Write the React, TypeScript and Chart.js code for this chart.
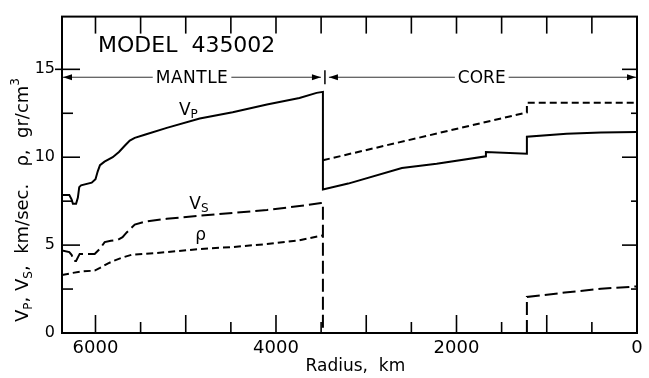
import React, { useEffect, useRef } from "react";
import { Chart, registerables } from "chart.js";

Chart.register(...registerables);

const FONT = '"DejaVu Sans", sans-serif';

// Radius (km) and values; null marks a break in the curve
const vpRadius = [6371, 6290, 6265, 6250, 6215, 6195, 6180, 6160, 6042, 6000, 5975, 5950, 5900, 5809, 5740, 5676, 5620, 5565, 5455, 5210, 4845, 4480, 4100, 3740, 3550, 3480, 3480, 3200, 2605, 2220, 1674, 1674, 1220, 1220, 780, 400, 0];
const vpValues = [7.85, 7.85, 7.6, 7.35, 7.35, 7.7, 8.3, 8.4, 8.55, 8.75, 9.2, 9.55, 9.75, 10.0, 10.3, 10.65, 10.95, 11.1, 11.28, 11.67, 12.2, 12.56, 13.0, 13.37, 13.66, 13.72, 8.17, 8.5, 9.39, 9.63, 10.05, 10.3, 10.2, 11.17, 11.33, 11.4, 11.43];

const vsRadius = [6371, 6290, 6265, 6240, 6215, 6195, 6175, 6009, 5950, 5898, 5830, 5754, 5700, 5654, 5565, 5455, 5211, 4845, 4480, 4100, 3740, 3500, 3480, 3480, 2000, 1220, 1220, 800, 400, 0];
const vsValues = [4.7, 4.6, 4.45, 4.1, 4.1, 4.3, 4.5, 4.5, 4.8, 5.17, 5.25, 5.3, 5.45, 5.72, 6.17, 6.33, 6.5, 6.67, 6.83, 7.0, 7.22, 7.39, 7.4, 0, null, 0, 2.05, 2.3, 2.52, 2.65];

const rhoRadius = [6371, 6250, 6150, 6009, 5950, 5865, 5800, 5710, 5600, 5455, 5211, 4845, 4480, 4100, 3740, 3480, 3480, 3480, 1220, 1220, 0];
const rhoValues = [3.3, 3.42, 3.5, 3.55, 3.7, 3.95, 4.1, 4.28, 4.45, 4.5, 4.6, 4.78, 4.89, 5.06, 5.28, 5.55, null, 9.83, 12.55, 13.1, 13.1];

const xTickLabels = [0, 2000, 4000, 6000];
const yTickLabels = [0, 5, 10, 15];
const modelTitle = "MODEL  435002";
const mantleLabel = "MANTLE";
const coreLabel = "CORE";
const xTitle = "Radius,  km";

const R_EARTH = 6371;
const R_CMB = 3480;

function pts(rs: number[], vs: (number | null)[]) {
  return rs.map((r, i) => ({ x: r, y: vs[i] }));
}

function drawParts(ctx: CanvasRenderingContext2D, parts: { t: string; s: number; dy?: number }[], x: number, y: number, center = false) {
  let total = 0;
  for (const p of parts) {
    ctx.font = `${p.s}px ${FONT}`;
    total += ctx.measureText(p.t).width;
  }
  let cx = center ? x - total / 2 : x;
  for (const p of parts) {
    ctx.font = `${p.s}px ${FONT}`;
    ctx.fillText(p.t, cx, y + (p.dy || 0));
    cx += ctx.measureText(p.t).width;
  }
}

const decor = {
  id: "decor",
  afterDraw(chart: any) {
    const ctx: CanvasRenderingContext2D = chart.ctx;
    const xs = chart.scales.x;
    const ys = chart.scales.y;
    const { left, right, top, bottom } = chart.chartArea;
    ctx.save();
    ctx.strokeStyle = "#000";
    ctx.fillStyle = "#000";
    // frame
    ctx.lineWidth = 2;
    ctx.strokeRect(left, top, right - left, bottom - top);
    // x ticks
    ctx.lineWidth = 1.6;
    for (let r = 0; r <= 6000; r += 500) {
      const px = xs.getPixelForValue(r);
      const major = r % 1000 === 0;
      ctx.beginPath();
      ctx.moveTo(px, bottom);
      ctx.lineTo(px, bottom - (major ? 18 : 11));
      ctx.stroke();
      ctx.beginPath();
      ctx.moveTo(px, top);
      ctx.lineTo(px, top + 17);
      ctx.stroke();
    }
    // y ticks
    for (let v = 2.5; v <= 15; v += 2.5) {
      const py = ys.getPixelForValue(v);
      const major = v % 5 === 0;
      ctx.beginPath();
      ctx.moveTo(v === 15 ? left - 7 : left, py);
      ctx.lineTo(left + (major ? 18 : 11), py);
      ctx.stroke();
      ctx.beginPath();
      ctx.moveTo(right, py);
      ctx.lineTo(right - (major ? 15 : 6), py);
      ctx.stroke();
    }
    // mantle / core arrows
    const ay = ys.getPixelForValue(14.55);
    const xE = xs.getPixelForValue(R_EARTH) + 1;
    const xC = xs.getPixelForValue(R_CMB) + 2;
    const x0 = xs.getPixelForValue(0) - 1;
    ctx.font = `17px ${FONT}`;
    ctx.textBaseline = "middle";
    ctx.textAlign = "center";
    const seg = (a: number, b: number, label: string, lx: number, ls: number) => {
      (ctx as any).letterSpacing = `${ls}px`;
      const w = ctx.measureText(label).width + 6;
      ctx.lineWidth = 1;
      ctx.strokeStyle = "#333";
      ctx.beginPath();
      ctx.moveTo(a, ay);
      ctx.lineTo(lx - w / 2, ay);
      ctx.moveTo(lx + w / 2, ay);
      ctx.lineTo(b, ay);
      ctx.stroke();
      ctx.fillStyle = "#000";
      ctx.beginPath();
      ctx.moveTo(a, ay);
      ctx.lineTo(a + 9, ay - 3);
      ctx.lineTo(a + 9, ay + 3);
      ctx.closePath();
      ctx.fill();
      ctx.beginPath();
      ctx.moveTo(b, ay);
      ctx.lineTo(b - 9, ay - 3);
      ctx.lineTo(b - 9, ay + 3);
      ctx.closePath();
      ctx.fill();
      ctx.fillText(label, lx, ay + 1);
      (ctx as any).letterSpacing = "0px";
    };
    seg(xE, xC - 4, mantleLabel, xs.getPixelForValue(4930), 0.5);
    seg(xC + 4, x0, coreLabel, xs.getPixelForValue(1720), 0);
    ctx.lineWidth = 1.5;
    ctx.strokeStyle = "#000";
    ctx.beginPath();
    ctx.moveTo(xC, ay - 7);
    ctx.lineTo(xC, ay + 7);
    ctx.stroke();

    // model title
    ctx.textAlign = "left";
    ctx.textBaseline = "alphabetic";
    ctx.font = `22px ${FONT}`;
    ctx.fillText(modelTitle, 98, 52);

    // curve labels
    drawParts(ctx, [{ t: "V", s: 17 }, { t: "P", s: 12, dy: 3 }], xs.getPixelForValue(5075), ys.getPixelForValue(12.4));
    drawParts(ctx, [{ t: "V", s: 17 }, { t: "S", s: 12, dy: 3 }], xs.getPixelForValue(4960), ys.getPixelForValue(7.05));
    drawParts(ctx, [{ t: "ρ", s: 17 }], xs.getPixelForValue(4895), ys.getPixelForValue(5.3));

    // y title
    ctx.save();
    ctx.translate(28, 200);
    ctx.rotate(-Math.PI / 2);
    drawParts(
      ctx,
      [
        { t: "V", s: 18 },
        { t: "P", s: 12, dy: 4 },
        { t: ", ", s: 18 },
        { t: "V", s: 18 },
        { t: "S", s: 12, dy: 4 },
        { t: ",  km/sec.   ", s: 18 },
        { t: "ρ", s: 18 },
        { t: ",  gr/cm", s: 18 },
        { t: "3", s: 12, dy: -9 },
      ],
      0,
      0,
      true
    );
    ctx.restore();

    // x title
    ctx.textAlign = "center";
    ctx.font = `17px ${FONT}`;
    ctx.fillText(xTitle, xs.getPixelForValue(3120), 371);
    ctx.restore();
  },
};

export default function App() {
  const ref = useRef<HTMLCanvasElement | null>(null);
  useEffect(() => {
    if (!ref.current) return;
    const chart = new Chart(ref.current, {
      type: "line",
      data: {
        datasets: [
          {
            label: "Vp",
            data: pts(vpRadius, vpValues) as any,
            borderColor: "#000",
            borderWidth: 2,
            pointRadius: 0,
            tension: 0,
            spanGaps: false,
          },
          {
            label: "Vs",
            data: pts(vsRadius, vsValues) as any,
            borderColor: "#000",
            borderWidth: 2,
            borderDash: [13, 5],
            pointRadius: 0,
            tension: 0,
            spanGaps: false,
          },
          {
            label: "rho",
            data: pts(rhoRadius, rhoValues) as any,
            borderColor: "#000",
            borderWidth: 2,
            borderDash: [7, 4],
            pointRadius: 0,
            tension: 0,
            spanGaps: false,
          },
        ],
      },
      options: {
        animation: false,
        responsive: false,
        layout: { padding: { left: 0, right: 12, top: 8, bottom: 0 } },
        plugins: { legend: { display: false }, tooltip: { enabled: false } },
        scales: {
          x: {
            type: "linear",
            reverse: true,
            min: 0,
            max: R_EARTH,
            border: { display: false },
            grid: { display: false, drawTicks: false },
            afterBuildTicks: (s: any) => {
              s.ticks = xTickLabels.map((v) => ({ value: v }));
            },
            afterFit: (s: any) => {
              s.height = 45;
            },
            ticks: {
              padding: 5,
              color: "#000",
              font: { family: "DejaVu Sans", size: 18 },
              maxRotation: 0,
              callback: (v: any) => String(v),
            },
          },
          y: {
            type: "linear",
            min: 0,
            max: 18,
            border: { display: false },
            grid: { display: false, drawTicks: false },
            afterBuildTicks: (s: any) => {
              s.ticks = yTickLabels.map((v) => ({ value: v }));
            },
            afterFit: (s: any) => {
              s.width = 62;
            },
            ticks: {
              padding: 7,
              color: "#000",
              font: { family: "DejaVu Sans", size: 16 },
              callback: (v: any) => String(v),
            },
          },
        },
      },
      plugins: [decor],
    });
    return () => chart.destroy();
  }, []);
  return (
    <div style={{ position: "absolute", left: 0, top: 0, width: 649, height: 378, background: "#fff" }}>
      <canvas ref={ref} width={649} height={378} style={{ display: "block" }} />
    </div>
  );
}
